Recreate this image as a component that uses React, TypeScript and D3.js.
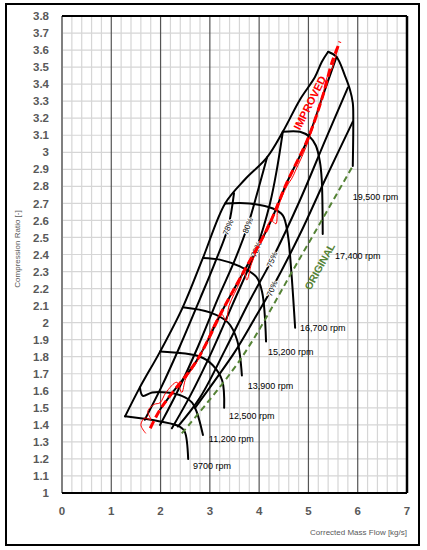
import * as d3 from "d3";
import React, { useRef, useEffect } from "react";

// axis ticks
const xTickValues = [0, 1, 2, 3, 4, 5, 6, 7];
const yTickValues = [
  1, 1.1, 1.2, 1.3, 1.4, 1.5, 1.6, 1.7, 1.8, 1.9, 2, 2.1, 2.2, 2.3, 2.4, 2.5,
  2.6, 2.7, 2.8, 2.9, 3, 3.1, 3.2, 3.3, 3.4, 3.5, 3.6, 3.7, 3.8,
];

// surge line [mass flow kg/s, pressure ratio]
const surgeLine = [
  [1.28, 1.45], [1.58, 1.62], [1.99, 1.83], [2.45, 2.09], [2.86, 2.38],
  [3.31, 2.7], [3.71, 2.84], [4.16, 2.97], [4.48, 3.12], [4.83, 3.31],
  [5.13, 3.44], [5.27, 3.53], [5.4, 3.59],
];

// speed lines
const speed9700 = [[1.28, 1.45], [1.99, 1.42], [2.39, 1.39], [2.49, 1.36], [2.56, 1.2]];
const speed11200 = [
  [1.58, 1.62], [1.64, 1.57], [1.83, 1.59], [2.13, 1.59], [2.43, 1.57],
  [2.64, 1.53], [2.74, 1.47], [2.86, 1.34],
];
const speed12500 = [[1.99, 1.83], [2.8, 1.8], [3.06, 1.75], [3.25, 1.66], [3.29, 1.5]];
const speed13900 = [[2.45, 2.09], [3.0, 2.06], [3.37, 2.0], [3.55, 1.9], [3.65, 1.69]];
const speed15200 = [[2.86, 2.38], [3.2, 2.37], [3.61, 2.33], [3.94, 2.27], [4.06, 2.18], [4.14, 1.89]];
const speed16700 = [
  [3.31, 2.7], [3.81, 2.7], [4.28, 2.67], [4.48, 2.63], [4.58, 2.52],
  [4.65, 2.31], [4.73, 1.97],
];
const speed17400 = [
  [4.48, 3.12], [4.83, 3.12], [5.03, 3.09], [5.15, 3.04], [5.23, 2.95],
  [5.27, 2.84], [5.29, 2.52],
];
const speed19500 = [
  [5.4, 3.59], [5.57, 3.56], [5.74, 3.45], [5.84, 3.37], [5.9, 3.29],
  [5.91, 3.19], [5.9, 2.92],
];

const speedNames = ["9700 rpm", "11,200 rpm", "12,500 rpm", "13,900 rpm", "15,200 rpm", "16,700 rpm", "17,400 rpm", "19,500 rpm"];
const speedLabelAt = [
  [2.66, 1.16], [2.98, 1.32], [3.39, 1.45], [3.77, 1.63],
  [4.18, 1.83], [4.83, 1.97], [5.54, 2.39], [5.9, 2.74],
];

// efficiency contours
const eff78a = [[1.68, 1.43], [2.03, 1.63], [2.39, 1.86], [2.8, 2.14], [3.1, 2.35], [3.37, 2.56], [3.49, 2.76]];
const eff80 = [[1.99, 1.4], [2.35, 1.6], [2.76, 1.86], [3.16, 2.14], [3.51, 2.37], [3.77, 2.57], [3.98, 2.78], [4.16, 2.97]];
const eff78b = [[2.23, 1.38], [2.6, 1.57], [3.04, 1.83], [3.45, 2.1], [3.94, 2.43], [4.22, 2.7], [4.36, 2.9], [4.48, 3.12]];
const effUnderRed = [[1.99, 1.49], [2.19, 1.57], [2.74, 1.78], [3.27, 2.08], [3.67, 2.29], [4.18, 2.56], [4.56, 2.82], [4.99, 3.08], [5.29, 3.33], [5.57, 3.56]];
const eff75 = [[2.35, 1.39], [2.8, 1.56], [3.31, 1.84], [3.81, 2.13], [4.26, 2.37], [4.83, 2.72], [5.34, 3.07], [5.8, 3.38]];
const eff70 = [[2.7, 1.5], [3.1, 1.66], [3.51, 1.83], [3.92, 2.03], [4.26, 2.2], [4.83, 2.52], [5.34, 2.84], [5.9, 3.18]];

const effNames = ["78%", "80%", "78%", "75%", "70%"];
const effLabelAt = [[3.37, 2.56], [3.77, 2.57], [3.94, 2.43], [4.26, 2.37], [4.26, 2.2]];

// original and improved surge lines
const originalLine = [[2.43, 1.35], [3.61, 1.78], [4.79, 2.36], [5.88, 2.91]];
const improvedLine = [
  [1.79, 1.38], [1.99, 1.49], [2.19, 1.57], [2.74, 1.78], [3.27, 2.08],
  [3.67, 2.29], [4.18, 2.56], [4.56, 2.82], [4.99, 3.08], [5.29, 3.33],
  [5.48, 3.53], [5.64, 3.65],
];
const improvedTrace = [
  [1.7, 1.35], [1.6, 1.4], [1.68, 1.44], [1.8, 1.43], [1.74, 1.48], [1.87, 1.52],
  [1.99, 1.53], [2.11, 1.59], [2.33, 1.65], [2.43, 1.59], [2.51, 1.67],
  [2.72, 1.76], [2.92, 1.88], [3.14, 2.02], [3.24, 2.05], [3.33, 2.01],
  [3.39, 2.1], [3.61, 2.24], [3.69, 2.31], [3.75, 2.25], [3.85, 2.35],
  [4.06, 2.49], [4.24, 2.6], [4.34, 2.58], [4.38, 2.67], [4.56, 2.8],
  [4.67, 2.85], [4.75, 2.9], [4.95, 3.03], [5.15, 3.2], [5.27, 3.31],
  [5.39, 3.45], [5.48, 3.49], [5.54, 3.55], [5.6, 3.61],
];

export default function App() {
  const ref = useRef<SVGSVGElement>(null);

  useEffect(() => {
    const svg = d3.select(ref.current);
    svg.selectAll("*").remove();

    const x = d3.scaleLinear().domain([0, 7]).range([62, 407]);
    const y = d3.scaleLinear().domain([1, 3.8]).range([493, 16]);
    const font = "'Liberation Sans', Arial, sans-serif";

    svg.append("rect").attr("width", 427).attr("height", 550).attr("fill", "#fff");
    svg
      .append("rect")
      .attr("x", 6).attr("y", 4).attr("width", 413).attr("height", 541)
      .attr("fill", "none").attr("stroke", "#000").attr("stroke-width", 2);

    // grid
    const grid = svg.append("g");
    d3.range(1.1, 3.75, 0.1).forEach((v) => {
      grid.append("line")
        .attr("x1", x(0)).attr("x2", x(7)).attr("y1", y(v)).attr("y2", y(v))
        .attr("stroke", "#d6d6d6").attr("stroke-width", 1.2);
    });
    d3.range(0.2, 7, 0.2).forEach((v) => {
      if (Math.abs(v - Math.round(v)) < 0.01) return;
      grid.append("line")
        .attr("x1", x(v)).attr("x2", x(v)).attr("y1", y(1)).attr("y2", y(3.8))
        .attr("stroke", "#d6d6d6").attr("stroke-width", 1.2);
    });
    [1, 2, 3, 4, 5, 6].forEach((v) => {
      grid.append("line")
        .attr("x1", x(v)).attr("x2", x(v)).attr("y1", y(1)).attr("y2", y(3.8))
        .attr("stroke", "#555").attr("stroke-width", 1.2);
    });

    // plot borders
    grid.append("line").attr("x1", x(0)).attr("x2", x(0)).attr("y1", y(1)).attr("y2", y(3.8))
      .attr("stroke", "#808080").attr("stroke-width", 2);
    grid.append("line").attr("x1", x(0)).attr("x2", x(7)).attr("y1", y(3.8)).attr("y2", y(3.8))
      .attr("stroke", "#000").attr("stroke-width", 2);
    grid.append("line").attr("x1", x(0)).attr("x2", x(7)).attr("y1", y(1)).attr("y2", y(1))
      .attr("stroke", "#000").attr("stroke-width", 2);
    grid.append("line").attr("x1", x(7)).attr("x2", x(7)).attr("y1", y(1)).attr("y2", y(3.8))
      .attr("stroke", "#000").attr("stroke-width", 2.5);

    // tick labels
    svg.append("g").selectAll("text").data(yTickValues).enter().append("text")
      .attr("x", 49).attr("y", (d) => y(d)).attr("dy", "0.36em")
      .attr("text-anchor", "end").attr("font-family", font).attr("font-weight", "bold")
      .attr("font-size", 11.5).attr("fill", "#595959").text((d) => String(d));
    svg.append("g").selectAll("text").data(xTickValues).enter().append("text")
      .attr("x", (d) => x(d)).attr("y", 515)
      .attr("text-anchor", "middle").attr("font-family", font).attr("font-weight", "bold")
      .attr("font-size", 11.5).attr("fill", "#595959").text((d) => String(d));

    svg.append("text").attr("x", 407).attr("y", 535).attr("text-anchor", "end")
      .attr("font-family", font).attr("font-size", 8).attr("fill", "#595959")
      .text("Corrected Mass Flow [kg/s]");
    svg.append("text").attr("transform", "translate(20,249) rotate(-90)").attr("text-anchor", "middle")
      .attr("font-family", font).attr("font-size", 8).attr("fill", "#595959")
      .text("Compression Ratio [-]");

    const line = d3.line<number[]>()
      .x((d) => x(d[0])).y((d) => y(d[1]))
      .curve(d3.curveCatmullRom.alpha(0.5));

    const map = svg.append("g").attr("fill", "none").attr("stroke", "#000")
      .attr("stroke-width", 2).attr("stroke-linejoin", "round").attr("stroke-linecap", "round");
    [eff78a, eff80, eff78b, effUnderRed, eff75, eff70].forEach((pts) => {
      map.append("path").attr("d", line(pts));
    });
    const speeds = [speed9700, speed11200, speed12500, speed13900, speed15200, speed16700, speed17400, speed19500];
    speeds.forEach((pts) => map.append("path").attr("d", line(pts)));
    map.append("path").attr("d", line(surgeLine));

    // efficiency labels
    svg.append("g").selectAll("text").data(effNames).enter().append("text")
      .attr("transform", (d, i) => `translate(${x(effLabelAt[i][0])},${y(effLabelAt[i][1])}) rotate(-68)`)
      .attr("text-anchor", "middle").attr("dy", "0.35em").attr("font-family", font)
      .attr("font-size", 8).attr("fill", "#000")
      .attr("stroke", "#fff").attr("stroke-width", 2).attr("paint-order", "stroke")
      .text((d) => d);

    // original (green dashed)
    svg.append("path").attr("d", line(originalLine)).attr("fill", "none")
      .attr("stroke", "#548235").attr("stroke-width", 2).attr("stroke-dasharray", "6,4");

    // improved (red)
    svg.append("path").attr("d", line(improvedTrace)).attr("fill", "none")
      .attr("stroke", "#ff0000").attr("stroke-width", 1);
    svg.append("path").attr("d", line(improvedLine)).attr("fill", "none")
      .attr("stroke", "#ff0000").attr("stroke-width", 3).attr("stroke-dasharray", "8,4");

    // speed labels
    svg.append("g").selectAll("text").data(speedNames).enter().append("text")
      .attr("x", (d, i) => x(speedLabelAt[i][0])).attr("y", (d, i) => y(speedLabelAt[i][1]))
      .attr("dy", "0.35em").attr("font-family", font).attr("font-size", 9)
      .attr("fill", "#000").text((d) => d);

    svg.append("text")
      .attr("transform", `translate(${x(5.03)},${y(3.29)}) rotate(-63)`)
      .attr("text-anchor", "middle").attr("dy", "0.35em").attr("font-family", font)
      .attr("font-weight", "bold").attr("font-size", 11).attr("fill", "#ff0000").text("IMPROVED");
    svg.append("text")
      .attr("transform", `translate(${x(5.23)},${y(2.33)}) rotate(-61)`)
      .attr("text-anchor", "middle").attr("dy", "0.35em").attr("font-family", font)
      .attr("font-weight", "bold").attr("font-size", 10.5).attr("fill", "#548235").text("ORIGINAL");
  }, []);

  return (
    <svg
      ref={ref}
      width={427}
      height={550}
      style={{ position: "absolute", left: 0, top: 0, display: "block" }}
    ></svg>
  );
}
